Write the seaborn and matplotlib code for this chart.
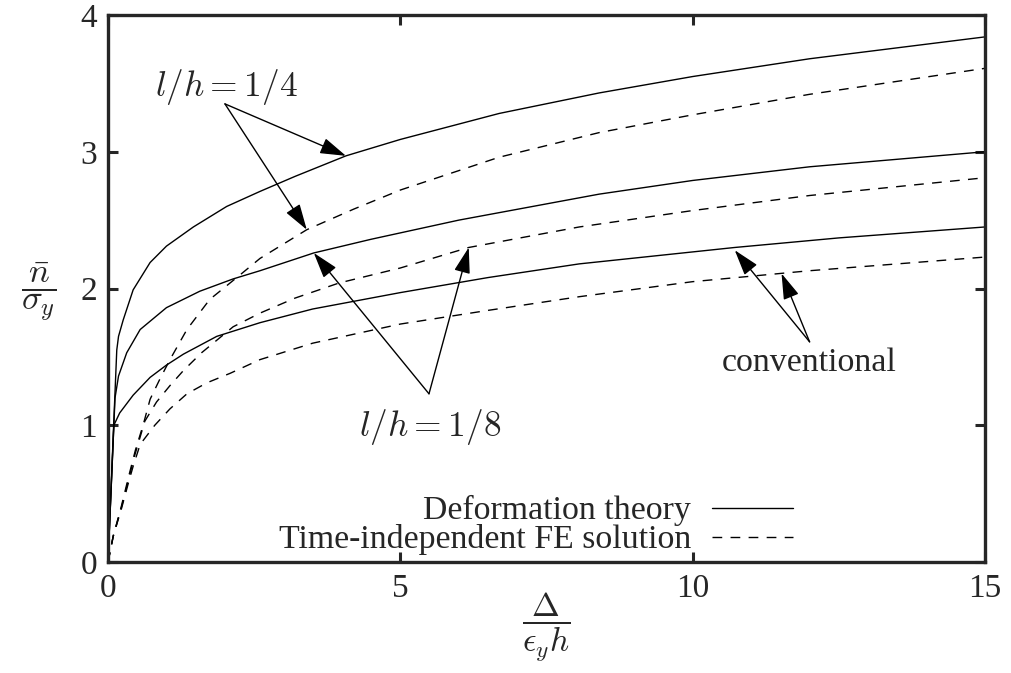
import numpy as np
import pandas as pd
import seaborn as sns
import matplotlib
matplotlib.use("Agg")
import matplotlib.pyplot as plt

# ---- data ----
# Deformation theory (solid)
x_def_quarter = [0, 0.15, 0.18, 0.26, 0.43, 0.72, 1.0, 1.46, 2.03, 2.6, 3.2, 4.07, 5, 6.69, 8.4, 10, 12, 15]
y_def_quarter = [0, 1.55, 1.65, 1.77, 1.99, 2.19, 2.31, 2.45, 2.60, 2.71, 2.82, 2.97, 3.09, 3.28, 3.43, 3.55, 3.68, 3.84]

x_def_eighth = [0, 0.12, 0.18, 0.32, 0.55, 1.0, 1.57, 2.14, 2.6, 3.52, 4.5, 6, 8.4, 10, 12, 15]
y_def_eighth = [0, 1.20, 1.36, 1.53, 1.70, 1.86, 1.98, 2.07, 2.13, 2.26, 2.36, 2.50, 2.69, 2.79, 2.89, 3.00]

x_def_conv = [0, 0.10, 0.20, 0.43, 0.72, 1.0, 1.29, 1.86, 2.6, 3.5, 5, 6.5, 8.06, 10.72, 12.5, 15]
y_def_conv = [0, 1.00, 1.09, 1.22, 1.35, 1.44, 1.52, 1.65, 1.75, 1.85, 1.97, 2.08, 2.18, 2.30, 2.37, 2.45]

# Time-independent FE solution (dashed)
x_fe_quarter = [0, 0.09, 0.23, 0.35, 0.47, 0.6, 0.72, 0.89, 1.06, 1.35, 1.74, 2.26, 2.6, 3.4, 4.2, 5, 6.69, 8.4, 10, 12, 15]
y_fe_quarter = [0, 0.19, 0.41, 0.62, 0.82, 1.00, 1.19, 1.34, 1.48, 1.70, 1.92, 2.10, 2.22, 2.43, 2.58, 2.72, 2.96, 3.14, 3.27, 3.42, 3.61]

x_fe_eighth = [0, 0.09, 0.23, 0.35, 0.45, 0.63, 0.83, 1.06, 1.29, 1.6, 2.14, 2.6, 3.2, 3.95, 5, 6.17, 8.06, 10, 12, 15]
y_fe_eighth = [0, 0.19, 0.40, 0.60, 0.77, 1.03, 1.17, 1.29, 1.40, 1.53, 1.72, 1.82, 1.93, 2.04, 2.15, 2.30, 2.45, 2.57, 2.68, 2.81]

x_fe_conv = [0, 0.09, 0.23, 0.35, 0.43, 0.55, 0.8, 1.06, 1.35, 1.69, 2.09, 2.6, 3.5, 5, 6.5, 8.06, 10, 12, 15]
y_fe_conv = [0, 0.19, 0.39, 0.58, 0.70, 0.86, 1.00, 1.12, 1.23, 1.31, 1.38, 1.48, 1.60, 1.74, 1.84, 1.94, 2.05, 2.13, 2.23]

x_ticks = [0, 5, 10, 15]
y_ticks = [0, 1, 2, 3, 4]
legend_labels = ["Deformation theory", "Time-independent FE solution"]

# ---- style ----
sns.set_style("ticks")
plt.rcParams["font.family"] = ["Liberation Serif", "DejaVu Serif"]
plt.rcParams["mathtext.fontset"] = "cm"

fig = plt.figure(figsize=(10.12, 6.73), dpi=100)
ax = fig.add_axes([108 / 1012, 1 - 562 / 673, 877 / 1012, 547 / 673])

lw = 1.0
dash = (7, 6)
solid_sets = [(x_def_quarter, y_def_quarter), (x_def_eighth, y_def_eighth), (x_def_conv, y_def_conv)]
dash_sets = [(x_fe_quarter, y_fe_quarter), (x_fe_eighth, y_fe_eighth), (x_fe_conv, y_fe_conv)]
h_solid = h_dash = None
for xs, ys in solid_sets:
    df = pd.DataFrame({"x": xs, "y": ys})
    sns.lineplot(data=df, x="x", y="y", ax=ax, color="black", lw=lw, sort=False)
    h_solid = ax.lines[-1]
for xs, ys in dash_sets:
    df = pd.DataFrame({"x": xs, "y": ys})
    sns.lineplot(data=df, x="x", y="y", ax=ax, color="black", lw=lw, sort=False)
    ax.lines[-1].set_dashes(dash)
    h_dash = ax.lines[-1]

ax.set_xlim(0, 15)
ax.set_ylim(0, 4)
ax.set_xticks(x_ticks)
ax.set_yticks(y_ticks)
ax.tick_params(direction="in", length=7, width=2.2, labelsize=24, pad=8,
               top=True, right=True)
for s in ax.spines.values():
    s.set_linewidth(2.4)

xl = ax.set_xlabel(r"$\dfrac{\Delta}{\epsilon_y h}$", fontsize=24)
ax.xaxis.set_label_coords(0.5, -(627 - 562) / 547)
xl.set_va("center")
yl = ax.set_ylabel(r"$\dfrac{\bar{n}}{\sigma_y}$", fontsize=25, rotation=0)
ax.yaxis.set_label_coords((39 - 108) / 877, (562 - 292) / 547)
yl.set_va("center")
yl.set_ha("center")

# ---- annotations ----
arrowprops = dict(arrowstyle="-|>,head_length=0.8,head_width=0.25", color="black",
                  lw=1.0, mutation_scale=20, shrinkA=0, shrinkB=0)
ax.text(2.02, 3.47, r"$l/h = 1/4$", fontsize=25.5, ha="center", va="center")
for tip in [(4.07, 2.97), (3.40, 2.43)]:
    ax.annotate("", xy=tip, xytext=(2.0, 3.35), arrowprops=arrowprops)

ax.text(5.51, 0.99, r"$l/h = 1/8$", fontsize=25.5, ha="center", va="center")
for tip in [(3.52, 2.26), (6.17, 2.30)]:
    ax.annotate("", xy=tip, xytext=(5.49, 1.23), arrowprops=arrowprops)

ax.text(12.0, 1.40, "conventional", fontsize=24.4, ha="center", va="baseline")
for tip in [(10.72, 2.28), (11.52, 2.11)]:
    ax.annotate("", xy=tip, xytext=(12.0, 1.61), arrowprops=arrowprops)

leg = ax.legend([h_solid, h_dash], legend_labels, loc="lower right",
                bbox_to_anchor=(0.781, 0.012), frameon=False, markerfirst=False,
                fontsize=24.4, handlelength=2.4, handletextpad=0.6, labelspacing=-0.06,
                borderpad=0, borderaxespad=0)

fig.savefig("out.png", dpi=100)
